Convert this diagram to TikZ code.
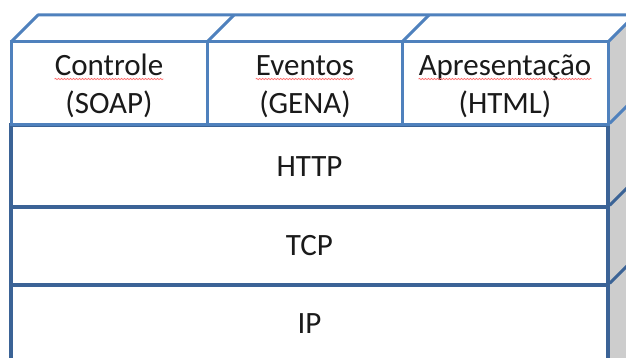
\documentclass[tikz,border=0pt]{standalone}
\usepackage{fontspec}
\setmainfont{Carlito}
\usepackage{tikz}
\usetikzlibrary{decorations.pathmorphing}
\definecolor{upblue}{HTML}{4F81BD}
\definecolor{lowblue}{HTML}{3B6396}
\definecolor{sidegray}{HTML}{CDCDCD}
\definecolor{txtgray}{HTML}{1A1A1A}
\tikzset{
  lcell/.style={draw=lowblue, line width=3.3pt, fill=white, minimum width=597pt, inner sep=0pt},
  ucell/.style={draw=upblue, line width=3pt, fill=white, inner sep=0pt, minimum height=83pt},
  ltxt/.style={anchor=base, inner sep=0pt, text=txtgray, font=\fontsize{31}{36}\selectfont},
  sface/.style={draw=upblue, line width=3pt, line join=round},
  spell/.style={draw=red!60, line width=0.7pt, decorate, decoration={snake, segment length=3pt, amplitude=0.6pt}},
}

\begin{document}
\begin{tikzpicture}[x=1pt, y=-1pt]
    \useasboundingbox (0,0) rectangle (626,358);
    \clip (0,0) rectangle (626,358);
    % side and top faces
    \fill[sidegray] (608,42) -- (635,15) -- (635,400) -- (608,400) -- cycle;
    \draw[sface, fill=white] (11,42) -- (38,15) -- (640,15);
    \draw[sface] (207,42) -- (234,15);
    \draw[sface] (402,42) -- (429,15);
    \draw[sface] (608,42) -- (635,15);
    % lower layers
    \node[lcell, minimum height=82pt] (http) at (309.5,166) {};
    \node[lcell, minimum height=78pt] (tcp) at (309.5,246) {};
    \node[lcell, minimum height=110pt] (ip) at (309.5,340) {};
    \draw[draw=upblue, line width=3pt] (http.north east) -- ++(27,-27);
    \draw[draw=lowblue, line width=3pt] (tcp.north east) -- ++(27,-27);
    \draw[draw=lowblue, line width=3pt] (ip.north east) -- ++(27,-27);
    % upper row
    \node[ucell, minimum width=196pt] (ctl) at (109,83.5) {};
    \node[ucell, minimum width=195pt] (evt) at (304.5,83.5) {};
    \node[ucell, minimum width=206pt] (apr) at (505,83.5) {};
    % labels
    \node[ltxt] (ctlw) at (109,76) {Controle};
    \node[ltxt] (ctlp) at (109,114) {(SOAP)};
    \node[ltxt] (evtw) at (305,76) {Eventos};
    \node[ltxt] (evtp) at (305,114) {(GENA)};
    \node[ltxt] (aprw) at (505,76) {Apresentação};
    \node[ltxt] (aprp) at (505,114) {(HTML)};
    \node[ltxt] (httpt) at (309.5,177) {HTTP};
    \node[ltxt] (tcpt) at (309.5,255) {TCP};
    \node[ltxt] (ipt) at (309.5,333) {IP};
    % spell-check marks
    \draw[spell] ([yshift=-3pt]ctlw.base west) -- ([yshift=-3pt]ctlw.base east);
    \draw[spell] ([yshift=-3pt]evtw.base west) -- ([yshift=-3pt]evtw.base east);
    \draw[spell] ([yshift=-3pt]aprw.base west) -- ([yshift=-3pt]aprw.base east);
\end{tikzpicture}
\end{document}
